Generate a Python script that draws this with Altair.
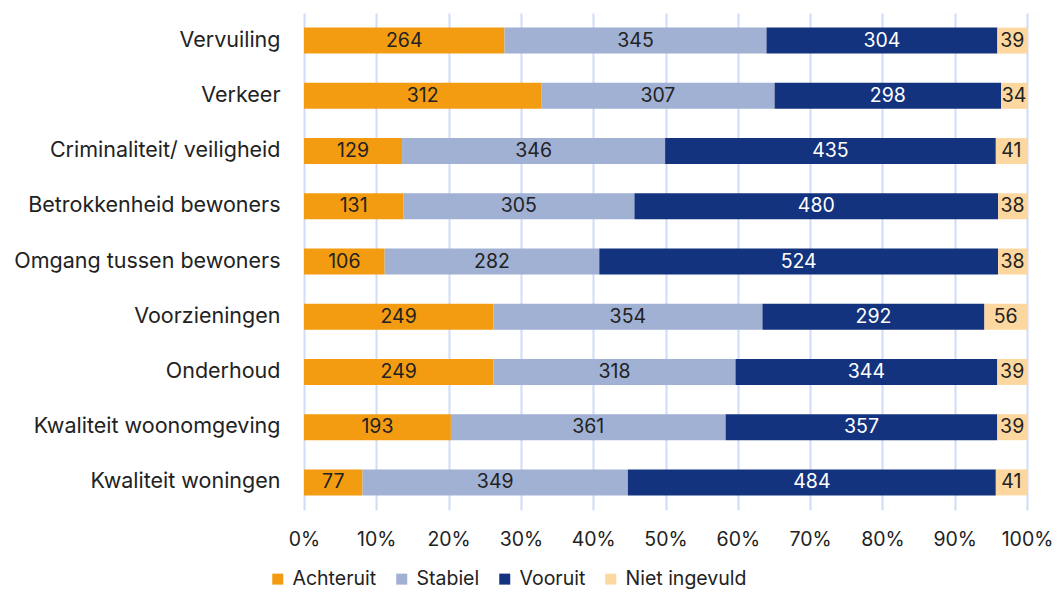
import altair as alt
import pandas as pd

cats = ["Vervuiling", "Verkeer", "Criminaliteit/ veiligheid", "Betrokkenheid bewoners",
        "Omgang tussen bewoners", "Voorzieningen", "Onderhoud",
        "Kwaliteit woonomgeving", "Kwaliteit woningen"]
series = ["Achteruit", "Stabiel", "Vooruit", "Niet ingevuld"]
achteruit = [264, 312, 129, 131, 106, 249, 249, 193, 77]
stabiel = [345, 307, 346, 305, 282, 354, 318, 361, 349]
vooruit = [304, 298, 435, 480, 524, 292, 344, 357, 484]
niet = [39, 34, 41, 38, 38, 56, 39, 39, 41]
colors = ["#F39C12", "#A0B1D3", "#14337E", "#FCD8A0"]
x_ticks = [0, 0.1, 0.2, 0.3, 0.4, 0.5, 0.6, 0.7, 0.8, 0.9, 1.0]

rows = []
for vals, s in zip([achteruit, stabiel, vooruit, niet], series):
    for c, v in zip(cats, vals):
        rows.append({"cat": c, "serie": s, "value": v, "ord": series.index(s)})
df = pd.DataFrame(rows)

FONT = "Inter"

base = alt.Chart(df).transform_stack(
    stack="value", groupby=["cat"], as_=["x0", "x1"],
    sort=[alt.SortField("ord", order="ascending")], offset="normalize"
).transform_calculate(mid="(datum.x0 + datum.x1) / 2")

y_enc = alt.Y("cat:N", sort=cats, title=None,
              scale=alt.Scale(paddingInner=0.53, paddingOuter=0.265),
              axis=alt.Axis(labelFontSize=21.5, labelColor="#222222", labelFont=FONT,
                            ticks=False, domain=False, grid=False, labelPadding=24,
                            labelLimit=320))

bars = base.mark_bar(size=26).encode(
    x=alt.X("x0:Q", title=None,
            scale=alt.Scale(domain=[0, 1], nice=False),
            axis=alt.Axis(format=".0%", values=x_ticks, labelFontSize=19.5, labelFont=FONT,
                          labelColor="#222222", ticks=False, domain=False,
                          grid=True, gridColor="#D0DCF6", gridWidth=2, labelPadding=20,
                          labelFlush=False)),
    x2="x1:Q",
    y=y_enc,
    color=alt.Color("serie:N", scale=alt.Scale(domain=series, range=colors),
                    legend=alt.Legend(title=None, orient="none", direction="horizontal",
                                      columns=4, legendX=-36, legendY=556,
                                      symbolType="square", symbolSize=121,
                                      symbolStrokeWidth=0, labelFontSize=19.5,
                                      labelFont=FONT, labelColor="#222222",
                                      labelOffset=5, columnPadding=15)),
    order=alt.Order("ord:Q")
)

texts = base.mark_text(fontSize=19.5, font=FONT, baseline="middle", align="center").encode(
    x=alt.X("mid:Q"),
    y=alt.Y("cat:N", sort=cats),
    text=alt.Text("value:Q"),
    color=alt.condition(alt.datum.serie == "Vooruit", alt.value("#FFFFFF"), alt.value("#222222"))
)

chart = alt.layer(bars, texts).properties(
    width=723, height=497,
    autosize=alt.AutoSizeParams(type="none"),
    padding={"left": 296, "top": 5, "right": 28, "bottom": 85}
).configure_view(stroke=None)

chart.save("out.html", embed_options={"renderer": "svg", "actions": False})
